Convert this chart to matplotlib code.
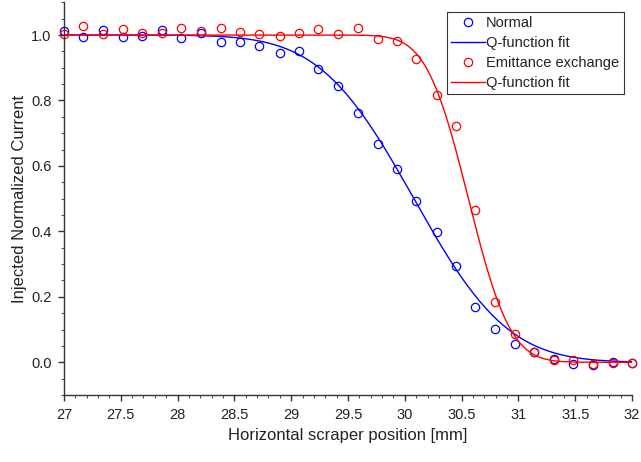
import math
import numpy as np
import matplotlib
matplotlib.use("Agg")
import matplotlib.pyplot as plt
from matplotlib.ticker import MultipleLocator, FormatStrFormatter

# scraper positions [mm]
positions = [27.0, 27.17, 27.34, 27.52, 27.69, 27.86, 28.03, 28.21, 28.38, 28.55,
             28.72, 28.90, 29.07, 29.24, 29.41, 29.59, 29.76, 29.93, 30.10, 30.28,
             30.45, 30.62, 30.79, 30.97, 31.14, 31.31, 31.48, 31.66, 31.83, 32.0]

# normal operation
normal = [1.011, 0.993, 1.016, 0.993, 0.998, 1.015, 0.991, 1.005, 0.978, 0.980,
          0.966, 0.945, 0.950, 0.897, 0.845, 0.761, 0.668, 0.592, 0.493, 0.398,
          0.294, 0.168, 0.103, 0.056, 0.031, 0.010, -0.004, -0.007, 0.000, -0.001]

# emittance exchange
eex = [1.003, 1.028, 1.002, 1.018, 1.007, 1.007, 1.022, 1.011, 1.021, 1.010,
       1.003, 0.996, 1.007, 1.018, 1.004, 1.022, 0.989, 0.982, 0.927, 0.817,
       0.722, 0.465, 0.183, 0.087, 0.032, 0.008, 0.006, -0.006, -0.001, -0.001]

# Q-function fit parameters (centre, width)
normal_fit = (30.08, 0.65)
eex_fit = (30.56, 0.29)


def qfunc(x, mu, sigma):
    return np.array([0.5 * math.erfc((v - mu) / (sigma * math.sqrt(2))) for v in x])


plt.rcParams['font.family'] = ['Liberation Sans', 'DejaVu Sans']
text_col = '#222222'

fig = plt.figure(figsize=(6.41, 4.62), dpi=100)
ax = fig.add_axes([0.0998, 0.145, 0.8862, 0.85])

xs = np.linspace(27, 32, 400)
ax.plot(positions, normal, 'o', mfc='none', mec='blue', ms=6, mew=0.9, clip_on=False,
        label='Normal')
ax.plot(xs, qfunc(xs, *normal_fit), color='blue', lw=1.0, label='Q-function fit')
ax.plot(positions, eex, 'o', mfc='none', mec='red', ms=6, mew=0.9, clip_on=False,
        label='Emittance exchange')
ax.plot(xs, qfunc(xs, *eex_fit), color='red', lw=1.0, label='Q-function fit')

ax.set_xlim(27, 32)
ax.set_ylim(-0.1, 1.1)
ax.xaxis.set_major_locator(MultipleLocator(0.5))
ax.xaxis.set_minor_locator(MultipleLocator(0.1))
ax.yaxis.set_major_locator(MultipleLocator(0.2))
ax.yaxis.set_minor_locator(MultipleLocator(0.05))
ax.xaxis.set_major_formatter(FormatStrFormatter('%g'))
ax.yaxis.set_major_formatter(FormatStrFormatter('%.1f'))

for s in ['top', 'right']:
    ax.spines[s].set_visible(False)
for s in ['left', 'bottom']:
    ax.spines[s].set_color('#333333')
    ax.spines[s].set_linewidth(1.0)
ax.tick_params(which='major', direction='out', length=4, width=1.0, colors='#333333',
               labelsize=10.5, labelcolor=text_col, pad=5)
ax.tick_params(which='minor', direction='out', length=2.5, width=0.8, colors='#555555')

ax.set_xlabel('Horizontal scraper position [mm]', fontsize=12, color=text_col, labelpad=5)
ax.set_ylabel('Injected Normalized Current', fontsize=12, color=text_col, labelpad=3)

leg = ax.legend(loc='upper right', bbox_to_anchor=(0.985, 0.976), fontsize=10.5,
                frameon=True, fancybox=False, framealpha=1, edgecolor='#333333',
                handlelength=2.3, handletextpad=0.1, borderpad=0.3, labelspacing=0.4,
                borderaxespad=0)
leg.get_frame().set_linewidth(0.8)
for t in leg.get_texts():
    t.set_color(text_col)

fig.savefig('out.png', dpi=100)
